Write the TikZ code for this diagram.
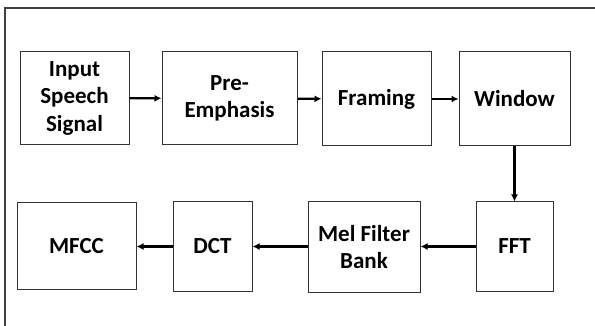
\documentclass[tikz,border=0pt]{standalone}
\usepackage{fontspec}
\setmainfont{Carlito}
\usetikzlibrary{arrows.meta}
\begin{document}
\begin{tikzpicture}[x=1pt,y=-1pt,
  blk/.style={draw=black!80,line width=1pt,inner sep=0pt,align=center,
    font=\fontsize{23}{27.5}\selectfont\bfseries},
  arr/.style={-{Latex[length=7pt,width=7pt]},line width=2.2pt}]
\useasboundingbox (0,0) rectangle (595,326);
\fill[white] (0,0) rectangle (595,326);
\draw[line width=2pt,black!75] (5,326) -- (5,8) -- (595,8);
\node[blk,minimum width=109pt,minimum height=93pt] (in) at (74.5,98) {Input\\Speech\\Signal};
\node[blk,minimum width=135pt,minimum height=93pt] (pre) at (229.5,98.5) {Pre-\\Emphasis};
\node[blk,minimum width=109pt,minimum height=94pt] (fr) at (376.5,99) {Framing};
\node[blk,minimum width=111pt,minimum height=94pt] (win) at (514.5,99) {Window};
\node[blk,minimum width=77pt,minimum height=89pt] (fft) at (514.5,246.5) {FFT};
\node[blk,minimum width=112pt,minimum height=90pt] (mel) at (364,247) {Mel Filter\\Bank};
\node[blk,minimum width=79pt,minimum height=89pt] (dct) at (212.5,246.5) {DCT};
\node[blk,minimum width=119pt,minimum height=86pt] (mfcc) at (76.5,246) {MFCC};
\draw[arr] (in) -- (pre);
\draw[arr] (pre) -- (fr);
\draw[arr] (fr) -- (win);
\draw[arr] (win) -- (fft);
\draw[arr] (fft.west) -- (mel.east |- fft.west);
\draw[arr] (mel.west |- fft.west) -- (dct.east |- fft.west);
\draw[arr] (dct.west |- fft.west) -- (mfcc.east |- fft.west);
\end{tikzpicture}
\end{document}
